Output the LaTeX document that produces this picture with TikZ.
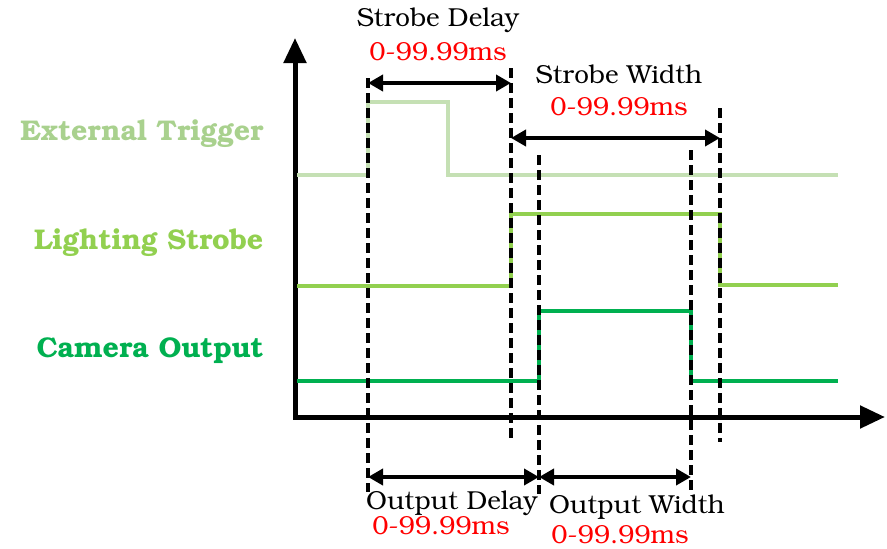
\documentclass[tikz,border=0pt]{standalone}
\usepackage[T1]{fontenc}
\usepackage{bookman}
\usepackage{xcolor}
\usetikzlibrary{arrows.meta}

\definecolor{trigline}{HTML}{C5E0B4}
\definecolor{trigtext}{HTML}{A9D18E}
\definecolor{strobecol}{HTML}{92D050}
\definecolor{camcol}{HTML}{00B050}

\begin{document}
\begin{tikzpicture}[x=1pt, y=-1pt, font=\fontsize{26}{30}\selectfont, >={Triangle[length=15pt, width=16pt]}]
        \useasboundingbox (0,0) rectangle (887,549);
        \tikzset{
            axisline/.style={line width=5pt, -{Triangle[length=25pt, width=22pt]}},
            guideline/.style={line width=4.5pt, dash pattern=on 10pt off 5pt},
            spanarrow/.style={line width=4pt, <->},
            signal/.style={line width=4.5pt},
            rangelbl/.style={text=red},
            signame/.style={font=\fontsize{28.5}{32}\selectfont\bfseries, anchor=east}
        }

        % axes
        \coordinate (origin) at (295,417);
        \coordinate (ytip) at (295,38);
        \coordinate (xtip) at (885,417);
        \draw[axisline] (295,419) -- (ytip);
        \draw[axisline] (293,417) -- (xtip);

        % signals
        \draw[signal, trigline] (297,175) -- (368,175) -- (368,102) -- (448,102) -- (448,175) -- (838,175);
        \draw[signal, strobecol] (297,286) -- (511,286) -- (511,214) -- (720,214) -- (720,285) -- (838,285);
        \draw[signal, camcol] (297,381) -- (539,381) -- (539,311) -- (691,311) -- (691,381) -- (838,381);

        % signal names
        \node[signame, text=trigtext] (trig) at (267,134) {External Trigger};
        \node[signame, text=strobecol] (strobe) at (267,243) {Lighting Strobe};
        \node[signame, text=camcol] (cam) at (267,350) {Camera Output};

        % timing guides
        \coordinate (g1top) at (368,78);  \coordinate (g1bot) at (368,492);
        \coordinate (g2top) at (511,68);  \coordinate (g2bot) at (511,442);
        \coordinate (g3top) at (539,155); \coordinate (g3bot) at (539,494);
        \coordinate (g4top) at (691,150); \coordinate (g4bot) at (691,494);
        \coordinate (g5top) at (720,108); \coordinate (g5bot) at (720,442);
        \foreach \g in {1,...,5}
            \draw[guideline] (g\g top) -- (g\g bot);

        % dimension arrows
        \draw[spanarrow] (368,83) -- (511,83);
        \draw[spanarrow] (511,138) -- (720,138);
        \draw[spanarrow] (368,477) -- (539,477);
        \draw[spanarrow] (539,477) -- (691,477);

        % dimension labels
        \node (sdelay) at (438,20) {Strobe Delay};
        \node[rangelbl] (sdelayval) at (438,52) {0-99.99ms};
        \node (swidth) at (619,75) {Strobe Width};
        \node[rangelbl] (swidthval) at (619,107) {0-99.99ms};
        \node (odelay) at (452,503) {Output Delay};
        \node[rangelbl] (odelayval) at (441,526) {0-99.99ms};
        \node (owidth) at (637,507) {Output Width};
        \node[rangelbl] (owidthval) at (620,535) {0-99.99ms};
    \end{tikzpicture}
\end{document}
